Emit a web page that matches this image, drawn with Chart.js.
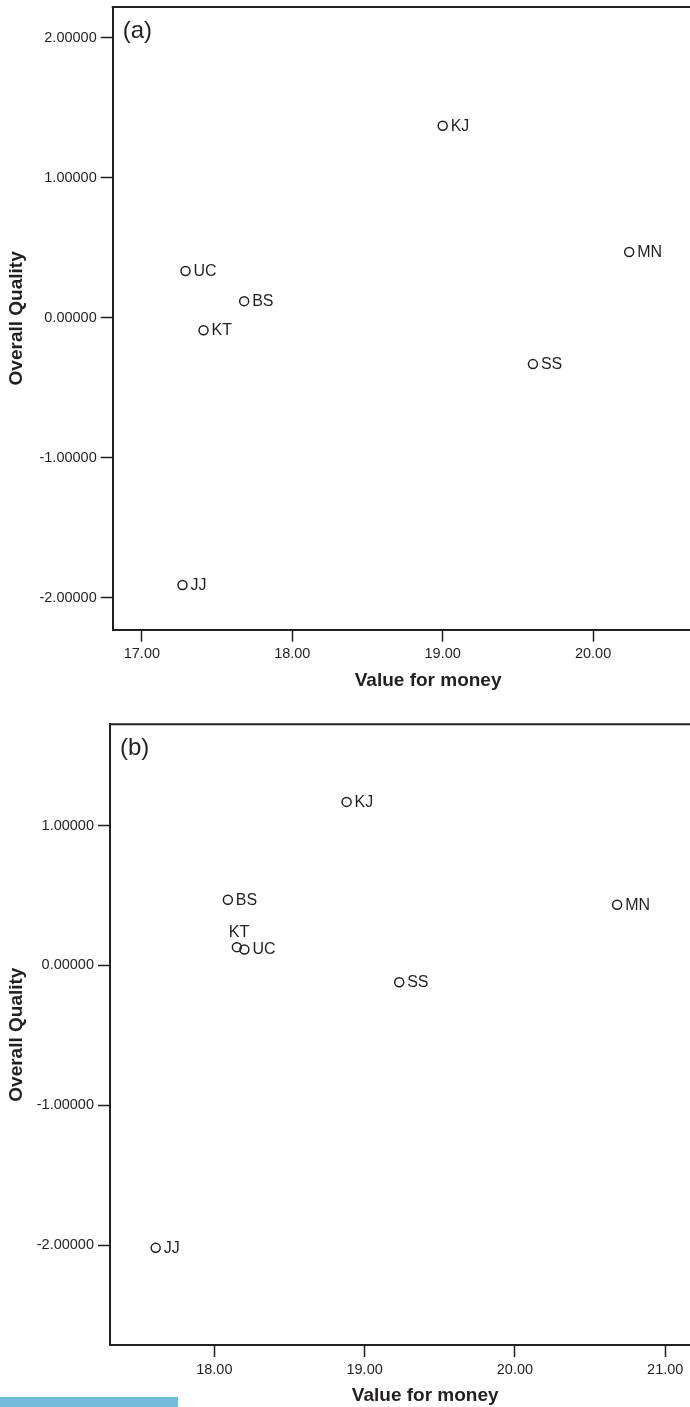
<!DOCTYPE html>
<html>
<head>
<meta charset="utf-8">
<script src="https://cdn.jsdelivr.net/npm/chart.js@4/dist/chart.umd.min.js"></script>
<style>
  html, body { margin: 0; padding: 0; background: #fff; overflow: hidden; width: 690px; height: 1407px; }
  .wrap { position: absolute; left: 0; width: 760px; }
  #wa { top: 0; height: 700px; }
  #wb { top: 700px; height: 707px; }
  #bar { position: absolute; left: 0; top: 1397px; width: 178px; height: 10px; background: #72bcda; }
</style>
</head>
<body>
<div class="wrap" id="wa"><canvas id="ca" width="760" height="700"></canvas></div>
<div class="wrap" id="wb"><canvas id="cb" width="760" height="707"></canvas></div>
<div id="bar"></div>
<script>
// ---- data ----
const brands = ['KJ', 'MN', 'UC', 'BS', 'KT', 'SS', 'JJ'];

const valueA   = [19.00, 20.24, 17.29, 17.68, 17.41, 19.60, 17.27];
const qualityA = [1.372, 0.469, 0.333, 0.118, -0.090, -0.332, -1.911];

const valueB   = [18.88, 20.68, 18.20, 18.09, 18.15, 19.23, 17.61];
const qualityB = [1.17, 0.434, 0.114, 0.470, 0.131, -0.12, -2.02];

const xTicksA = [17, 18, 19, 20, 21];
const yTicksA = [-2, -1, 0, 1, 2];
const xTicksB = [18, 19, 20, 21];
const yTicksB = [-2, -1, 0, 1];

const xTitle = 'Value for money';
const yTitle = 'Overall Quality';

// ---- style ----
const INK = '#231f20';
const FAM = '"Liberation Sans", Arial, Helvetica, sans-serif';

const framePlugin = {
  id: 'frameLabels',
  afterDraw(chart, args, opts) {
    const {ctx, chartArea: a} = chart;
    ctx.save();
    ctx.strokeStyle = INK;
    ctx.lineWidth = 2;
    ctx.beginPath();
    ctx.moveTo(a.left - 1, a.top);
    ctx.lineTo(a.right, a.top);
    ctx.lineTo(a.right, a.bottom);
    ctx.stroke();

    ctx.fillStyle = INK;
    ctx.font = '24px ' + FAM;
    ctx.textAlign = 'left';
    ctx.textBaseline = 'middle';
    ctx.fillText(opts.panel, a.left + 10, a.top + 24);

    ctx.font = '16px ' + FAM;
    const meta = chart.getDatasetMeta(0);
    meta.data.forEach((pt, i) => {
      const name = chart.data.labels[i];
      if ((opts.above || []).includes(name)) {
        ctx.fillText(name, pt.x - 8, pt.y - 15);
      } else {
        ctx.fillText(name, pt.x + 8, pt.y + 0.5);
      }
    });
    ctx.restore();
  }
};

function zeroPad(s) {
  s.paddingLeft = 0; s.paddingRight = 0; s.paddingTop = 0; s.paddingBottom = 0;
}

function makeChart(id, xs, ys, xr, yr, xt, yt, yWidth, pad, panel, above) {
  const pts = xs.map((x, i) => ({x: x, y: ys[i]}));
  return new Chart(document.getElementById(id), {
    type: 'scatter',
    data: {
      labels: brands,
      datasets: [{
        data: pts,
        pointRadius: 4.5,
        pointHoverRadius: 4.5,
        pointBorderWidth: 1.5,
        borderColor: INK,
        backgroundColor: 'rgba(255,255,255,0)',
        pointStyle: 'circle'
      }]
    },
    options: {
      responsive: false,
      animation: false,
      events: [],
      layout: { padding: pad },
      plugins: {
        legend: { display: false },
        tooltip: { enabled: false },
        frameLabels: { panel: panel, above: above }
      },
      scales: {
        x: {
          type: 'linear',
          min: xr[0], max: xr[1],
          afterBuildTicks: s => { s.ticks = xt.map(v => ({value: v})); },
          afterFit: s => { s.height = 62; zeroPad(s); },
          ticks: {
            callback: v => Number(v).toFixed(2),
            color: INK, font: {family: FAM, size: 14.5}, padding: 4,
            autoSkip: false, maxRotation: 0
          },
          grid: { drawOnChartArea: false, drawTicks: true, tickLength: 12, tickColor: INK, tickWidth: 1.5, color: INK },
          border: { display: true, color: INK, width: 2 },
          title: { display: true, text: xTitle, color: INK, font: {family: FAM, size: 19, weight: 'bold'}, padding: {top: 0, bottom: 0} }
        },
        y: {
          type: 'linear',
          min: yr[0], max: yr[1],
          afterBuildTicks: s => { s.ticks = yt.map(v => ({value: v})); },
          afterFit: s => { s.width = yWidth; zeroPad(s); },
          ticks: {
            callback: v => Number(v).toFixed(5),
            color: INK, font: {family: FAM, size: 14.5}, padding: 4, autoSkip: false
          },
          grid: { drawOnChartArea: false, drawTicks: true, tickLength: 12, tickColor: INK, tickWidth: 1.5, color: INK },
          border: { display: true, color: INK, width: 2 },
          title: { display: true, text: yTitle, color: INK, font: {family: FAM, size: 19, weight: 'bold'}, padding: {top: 5.6, bottom: 0} }
        }
      }
    },
    plugins: [framePlugin]
  });
}

makeChart('ca', valueA, qualityA, [16.806, 21.0], [-2.23, 2.22], xTicksA, yTicksA, 112.7,
  {top: 7, left: 0, right: 16.5, bottom: 8.3}, '(a)', []);
makeChart('cb', valueB, qualityB, [17.306, 21.5], [-2.715, 1.725], xTicksB, yTicksB, 110,
  {top: 24.3, left: 0, right: 19.6, bottom: 0}, '(b)', ['KT']);
</script>
</body>
</html>
